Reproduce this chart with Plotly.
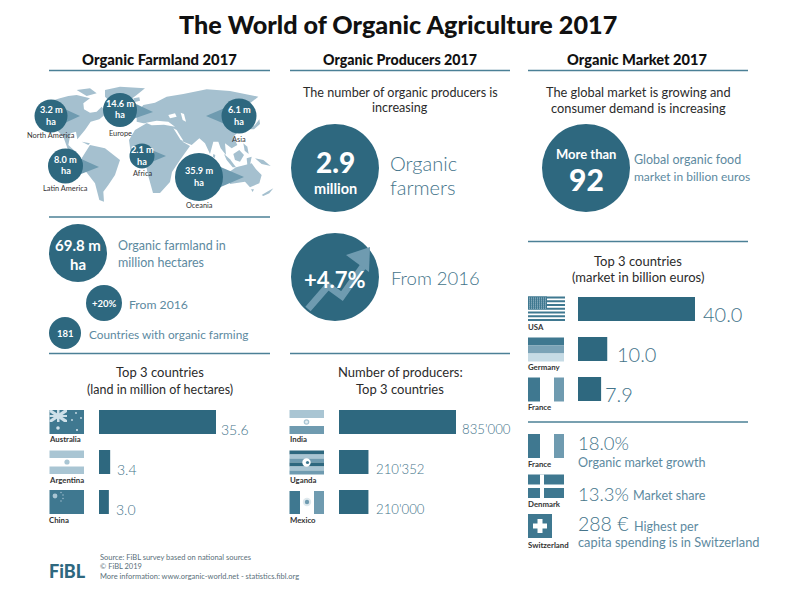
import plotly.graph_objects as go

# ---------- data ----------
land_countries = ["Australia", "Argentina", "China"]
land_values = [35.6, 3.4, 3.0]
land_labels = ["35.6", "3.4", "3.0"]
prod_countries = ["India", "Uganda", "Mexico"]
prod_values = [835000, 210352, 210000]
prod_labels = ["835'000", "210'352", "210'000"]
market_countries = ["USA", "Germany", "France"]
market_values = [40.0, 10.0, 7.9]
market_labels = ["40.0", "10.0", "7.9"]
regions = ["North America", "Europe", "Asia", "Latin America", "Africa", "Oceania"]
region_values = ["3.2 m", "14.6 m", "6.1 m", "8.0 m", "2.1 m", "35.9 m"]

# ---------- style ----------
W, H = 798, 600
FONT = "Lato"
DARK = "#2e687f"
FLAG = "#3f7890"
MID = "#6f9bb0"
PALE = "#a9c5d3"
VPALE = "#cfe0e9"
MAP = "#a5c0cf"
TXT = "#5d8a9f"
THIN = "#44748a"
INK = "#2b2b2b"

px = lambda x: x / W
py = lambda y: 1 - y / H

shapes = []
annots = []


def rect(x0, y0, x1, y1, c):
    shapes.append(dict(type="rect", xref="paper", yref="paper", x0=px(x0), x1=px(x1),
                       y0=py(y1), y1=py(y0), fillcolor=c, line_width=0))


def circle(cx, cy, r, c=DARK):
    shapes.append(dict(type="circle", xref="paper", yref="paper", x0=px(cx - r), x1=px(cx + r),
                       y0=py(cy + r), y1=py(cy - r), fillcolor=c, line_width=0))


def poly(pts, c, close=True):
    d = "M" + " L".join(f"{px(x):.5f},{py(y):.5f}" for x, y in pts) + (" Z" if close else "")
    shapes.append(dict(type="path", xref="paper", yref="paper", path=d, fillcolor=c, line_width=0))


def hline(x0, x1, y, w=1.4):
    shapes.append(dict(type="line", xref="paper", yref="paper", x0=px(x0), x1=px(x1), y0=py(y), y1=py(y),
                       line=dict(color="#4b8096", width=w)))


def T(x, y, s, size, c=INK, anchor="center", bold=False, weight=None):
    f = dict(family=FONT, size=size, color=c)
    if weight:
        f["weight"] = weight
    annots.append(dict(xref="paper", yref="paper", x=px(x), y=py(y), text=f"<b>{s}</b>" if bold else s,
                       showarrow=False, xanchor=anchor, yanchor="middle", align=anchor,
                       font=f, borderpad=0, borderwidth=0))


# ---------- world map (schematic outlines) ----------
def A(pts):  # western crop coordinates -> px
    return [(x / 3 + 40, y / 3 + 80) for x, y in pts]


def B(pts):  # eastern crop coordinates -> px
    return [(x / 3 + 150, y / 3 + 80) for x, y in pts]


west = [
    # North America
    [(0, 70), (35, 62), (60, 55), (85, 48), (110, 45), (150, 55), (130, 70), (132, 88), (150, 98), (170, 95), (185, 80),
     (200, 100), (178, 118), (152, 125), (135, 150), (112, 178), (108, 155), (92, 160), (85, 195), (110, 218),
     (125, 235), (112, 232), (85, 212), (70, 170), (50, 150), (20, 130), (0, 125)],
    # Arctic islands
    [(110, 30), (150, 25), (170, 40), (140, 48)],
    # Greenland
    [(195, 30), (240, 20), (315, 25), (290, 45), (270, 60), (240, 85), (215, 70), (195, 50)],
    # Iceland
    [(280, 55), (298, 52), (300, 62), (285, 66)],
    # South America
    [(125, 235), (150, 195), (195, 205), (240, 240), (225, 285), (205, 315), (190, 335), (192, 365), (178, 360),
     (165, 310), (130, 265)],
    # Cuba
    [(125, 185), (150, 190), (145, 195)],
]
for p in west:
    poly(A(p), MAP)

# Africa
poly([(129, 140), (135, 130), (147, 123), (165, 122), (178, 128), (183, 142), (190, 146), (180, 160), (172, 172),
      (170, 182), (160, 193), (153, 193), (148, 175), (146, 165), (140, 158), (131, 155)], MAP)

east = [
    # Eurasia
    [(-40, 100), (-20, 75), (15, 68), (50, 50), (100, 42), (170, 28), (240, 33), (325, 50), (300, 70), (305, 100),
     (280, 120), (270, 150), (250, 170), (262, 195), (245, 205), (225, 190), (228, 225), (212, 205), (205, 185),
     (190, 185), (180, 222), (165, 190), (148, 175), (125, 195), (100, 185), (80, 150), (50, 140), (20, 130),
     (-20, 130), (-40, 125)],
    # Madagascar
    [(85, 262), (95, 255), (85, 300), (75, 298)],
    # Japan
    [(298, 148), (315, 135), (328, 118), (330, 132), (312, 148)],
    # Sumatra, Java
    [(222, 222), (240, 238), (258, 262), (248, 262), (230, 240)],
    [(258, 265), (300, 270), (300, 275), (260, 272)],
    # Borneo
    [(250, 222), (268, 210), (282, 225), (270, 245), (255, 240)],
    # Philippines
    [(280, 190), (292, 200), (296, 222), (284, 212)],
    # Sulawesi
    [(290, 235), (305, 230), (300, 255), (292, 255)],
    # New Guinea
    [(315, 235), (340, 240), (362, 258), (335, 252)],
    # Sri Lanka
    [(190, 222), (196, 225), (194, 234), (189, 230)],
    # Australia
    [(232, 280), (258, 262), (285, 255), (305, 250), (318, 268), (335, 285), (328, 310), (300, 322), (285, 305),
     (240, 312)],
    # Tasmania
    [(303, 328), (312, 328), (308, 336)],
    # New Zealand
    [(335, 345), (350, 336), (370, 325), (358, 340), (340, 348)],
]
for p in east:
    poly(B(p), MAP)

# inland seas
for p in [[(-12, 128), (20, 122), (55, 125), (75, 140), (42, 134), (5, 136)],
          [(55, 105), (75, 100), (80, 110), (60, 115)],
          [(92, 98), (102, 102), (108, 125), (98, 120)],
          [(70, 145), (80, 150), (100, 182), (92, 180)]]:
    poly(B(p), "white")

# region circles: centre x, centre y, radius, pointer apex x, y, label y
region_geom = [
    (51, 116, 16.5, 80, 116, 135),
    (120, 110, 17, 153, 112, 133),
    (239, 116, 17.5, 206, 116, 139),
    (65.5, 166, 17.5, 99, 167, 189),
    (142, 156, 12.5, 166, 156, 173),
    (199, 177, 24, 244, 177, 205),
]
for (cx, cy, r, ax, ay, ly), name, val in zip(region_geom, regions, region_values):
    poly([(cx, cy - r * 0.8), (ax, ay), (cx, cy + r * 0.8)], MID)
    circle(cx, cy, r)
    T(cx, cy - 6.5, val, 9.2, "white", bold=True)
    T(cx, cy + 5, "ha", 9.2, "white", bold=True)
    T(cx, ly, name, 7.4, "#333333")

# ---------- titles ----------
T(398, 24, "The World of Organic Agriculture 2017", 25.2, "#111111", weight=900)
for x, s, sz in [(159, "Organic Farmland 2017", 14.8), (400, "Organic Producers 2017", 14.2),
                 (637, "Organic Market 2017", 14.6)]:
    T(x, 59, s, sz, "#111111", weight=900)

for x0, x1, y in [(49, 270, 70.5), (290, 510, 70.5), (528, 748, 70.5), (49, 270, 217), (49, 270, 353.5),
                  (290, 510, 353.5), (528, 748, 241.5), (528, 748, 422)]:
    hline(x0, x1, y)

# ---------- left mid block ----------
circle(78, 253, 29)
T(78, 245, "69.8 m", 15, "white", bold=True)
T(78, 264, "ha", 15, "white", bold=True)
T(118, 246, "Organic farmland in", 12.5, TXT, "left")
T(118, 262, "million hectares", 12.5, TXT, "left")
circle(104, 303, 18)
T(104, 303, "+20%", 9.5, "white", bold=True)
T(129, 304, "From 2016", 12.2, TXT, "left")
circle(65, 333, 16)
T(65, 333, "181", 9.5, "white", bold=True)
T(89, 334, "Countries with organic farming", 11.8, TXT, "left")
T(160, 372, "Top 3 countries", 13, INK)
T(160, 389, "(land in million of hectares)", 12.5, INK)

# ---------- middle block ----------
T(400, 92, "The number of organic producers is", 12.6, INK)
T(400, 108, "increasing", 12.6, INK)
circle(335, 168, 44)
T(335, 162, "2.9", 28, "white", weight=900)
T(335, 188, "million", 14.5, "white", bold=True)
T(390, 163, "Organic", 20, THIN, "left", weight=300)
T(390, 187, "farmers", 20, THIN, "left", weight=300)
circle(335, 277, 44)
shapes.append(dict(type="path", xref="paper", yref="paper",
                   path="M" + " L".join(f"{px(x):.5f},{py(y):.5f}" for x, y in
                                        [(308, 309), (328, 286), (342, 296), (364, 265)]),
                   line=dict(color=MID, width=7), fillcolor="rgba(0,0,0,0)"))
poly([(346, 255), (370, 247), (369, 272)], MID)
T(335, 279, "+4.7%", 22, "white", bold=True)
T(391, 278, "From 2016", 18.5, THIN, "left", weight=300)
T(400, 372, "Number of producers:", 13, INK)
T(400, 389, "Top 3 countries", 13, INK)

# ---------- right block ----------
T(638, 92, "The global market is growing and", 12.8, INK)
T(638, 108, "consumer demand is increasing", 12.8, INK)
circle(586, 168, 44)
T(586, 153.5, "More than", 13, "white", bold=True)
T(586, 179, "92", 30, "white", weight=900)
T(634, 160, "Global organic food", 12.5, TXT, "left")
T(634, 177, "market in billion euros", 12, TXT, "left")
T(638, 261, "Top 3 countries", 13, INK)
T(638, 277, "(market in billion euros)", 13, INK)

# ---------- flags ----------
# Australia
rect(49.5, 410, 84, 434, FLAG)
poly([(49.5, 410), (52, 410), (67, 420), (67, 422), (64, 422), (49.5, 412)], VPALE)
poly([(67, 410), (64, 410), (49.5, 420), (49.5, 422), (52, 422), (67, 412)], VPALE)
rect(49.5, 415, 67, 417, VPALE)
rect(57, 410, 59.5, 422, VPALE)
for x, y, r in [(58, 428, 1.8), (76, 413, 0.9), (81, 418, 0.9), (72, 420, 0.9), (77, 430, 1.1)]:
    circle(x, y, r, VPALE)
# Argentina
rect(49.5, 450.5, 84, 458, PALE)
rect(49.5, 466.5, 84, 474, PALE)
circle(67, 462, 2.6, PALE)
# China
rect(49.5, 490, 84, 514, FLAG)
circle(55, 496, 2.4, PALE)
for x, y in [(61, 492.5), (63, 495), (63, 498.5), (61, 501)]:
    circle(x, y, 0.7, PALE)
# India
rect(289.5, 410, 324, 418, PALE)
rect(289.5, 426, 324, 434, MID)
circle(306.5, 422, 2.8, PALE)
circle(306.5, 422, 1.5, "#e8f0f4")
# Uganda
for i, c in enumerate([DARK, PALE, MID, DARK, PALE, MID]):
    rect(289.5, 450.5 + i * 4, 324, 454.5 + i * 4, c)
circle(306.5, 462.5, 4.2, "white")
circle(307.5, 462.5, 1.6, FLAG)
# Mexico
rect(289.5, 491, 300, 514, FLAG)
rect(314, 491, 324, 514, MID)
circle(307, 502, 4.2, "#dfe9ee")
circle(307, 502, 2.2, MID)
# USA
for i in range(7):
    rect(528, 296.5 + i * 3.75, 565, 298.4 + i * 3.75, FLAG)
rect(528, 296.5, 547, 309, FLAG)
for i in range(9):
    for j in range(6):
        circle(529.5 + i * 2, 298 + j * 2, 0.5, VPALE)
# Germany
rect(528, 337.5, 564, 345.5, FLAG)
rect(528, 345.5, 564, 353.5, "#7ba3b7")
rect(528, 353.5, 564, 361.5, "#c6dbe5")
# France x2
rect(528, 377.5, 540, 401.5, FLAG)
rect(554, 377.5, 564, 401.5, MID)
rect(528, 434, 540, 458, FLAG)
rect(554, 434, 564, 458, MID)
# Denmark
rect(528, 474.5, 564, 498, FLAG)
rect(540, 474.5, 544, 498, "white")
rect(528, 484.5, 564, 488, "white")
# Switzerland
rect(528, 514, 552, 538, FLAG)
rect(537.5, 519, 542.5, 533, "white")
rect(533, 523.5, 547, 528.5, "white")

flag_labels = [(49, 439, land_countries[0]), (49, 480, land_countries[1]), (49, 520, land_countries[2]),
               (289.5, 439, prod_countries[0]), (289.5, 480, prod_countries[1]), (289.5, 520, prod_countries[2]),
               (528, 327, market_countries[0]), (528, 367, market_countries[1]), (528, 407, market_countries[2]),
               (528, 464, "France"), (528, 504, "Denmark"), (528, 545, "Switzerland")]
for x, y, s in flag_labels:
    T(x, y, s, 7.8, "#333333", "left", bold=True)

# ---------- market facts ----------
T(578, 443, "18.0%", 18.5, THIN, "left", weight=300)
T(578, 462, "Organic market growth", 12.6, TXT, "left")
T(578, 494, "13.3%", 18.5, THIN, "left", weight=300)
T(633, 495, "Market share", 12.6, TXT, "left")
T(578, 523, "288 €", 19.5, THIN, "left", weight=300)
T(634, 526, "Highest per", 12.6, TXT, "left")
T(578, 542, "capita spending is in Switzerland", 12.8, TXT, "left")

# ---------- footer ----------
FOOT = "#5a6f7a"
T(100, 557, "Source: FiBL survey based on national sources", 7.5, FOOT, "left")
T(100, 566.5, "© FiBL 2019", 7.5, FOOT, "left")
T(100, 576, "More information: www.organic-world.net - statistics.fibl.org", 7.5, FOOT, "left")
T(49, 571, "FiBL", 18, DARK, "left", weight=900)

# ---------- bar charts ----------
fig = go.Figure()
panels = [
    ("x", "y", land_countries, land_values, land_labels, 99, 216, 402, 522, [3, 5, 5], -7, 14, 300),
    ("x2", "y2", prod_countries, prod_values, prod_labels, 339, 456, 402, 522, [4, 6, 6], -7, 13.2, 300),
    ("x3", "y3", market_countries, market_values, market_labels, 578, 695, 289, 409, [6, 8, 2], -5, 20, 300),
]
for i, (xa, ya, cats, vals, labs, x0, x1, y0, y1, xs, ys, fs, wt) in enumerate(panels):
    fig.add_trace(go.Bar(x=vals, y=cats, orientation="h", xaxis=xa, yaxis=ya, marker=dict(color=DARK, line_width=0),
                         width=0.6, hoverinfo="x+y", showlegend=False))
    suf = "" if i == 0 else str(i + 1)
    fig.update_layout({
        f"xaxis{suf}": dict(domain=[px(x0), px(x1)], range=[0, max(vals)], visible=False, fixedrange=True),
        f"yaxis{suf}": dict(domain=[py(y1), py(y0)], type="category", categoryorder="array", categoryarray=cats,
                            range=[2.5, -0.5], visible=False, fixedrange=True),
    })
    for v, c, l, s in zip(vals, cats, labs, xs):
        annots.append(dict(xref=xa, yref=ya, x=v, y=c, text=l, showarrow=False, xanchor="left", yanchor="middle",
                           xshift=s, yshift=ys, font=dict(family=FONT, size=fs, color=THIN, weight=wt)))

fig.update_layout(width=W, height=H, margin=dict(l=0, r=0, t=0, b=0), paper_bgcolor="white", plot_bgcolor="white",
                  shapes=shapes, annotations=annots, showlegend=False, font=dict(family=FONT))
fig.write_html("out.html", config={"displayModeBar": False},
               post_script="document.body.style.margin='0';")
